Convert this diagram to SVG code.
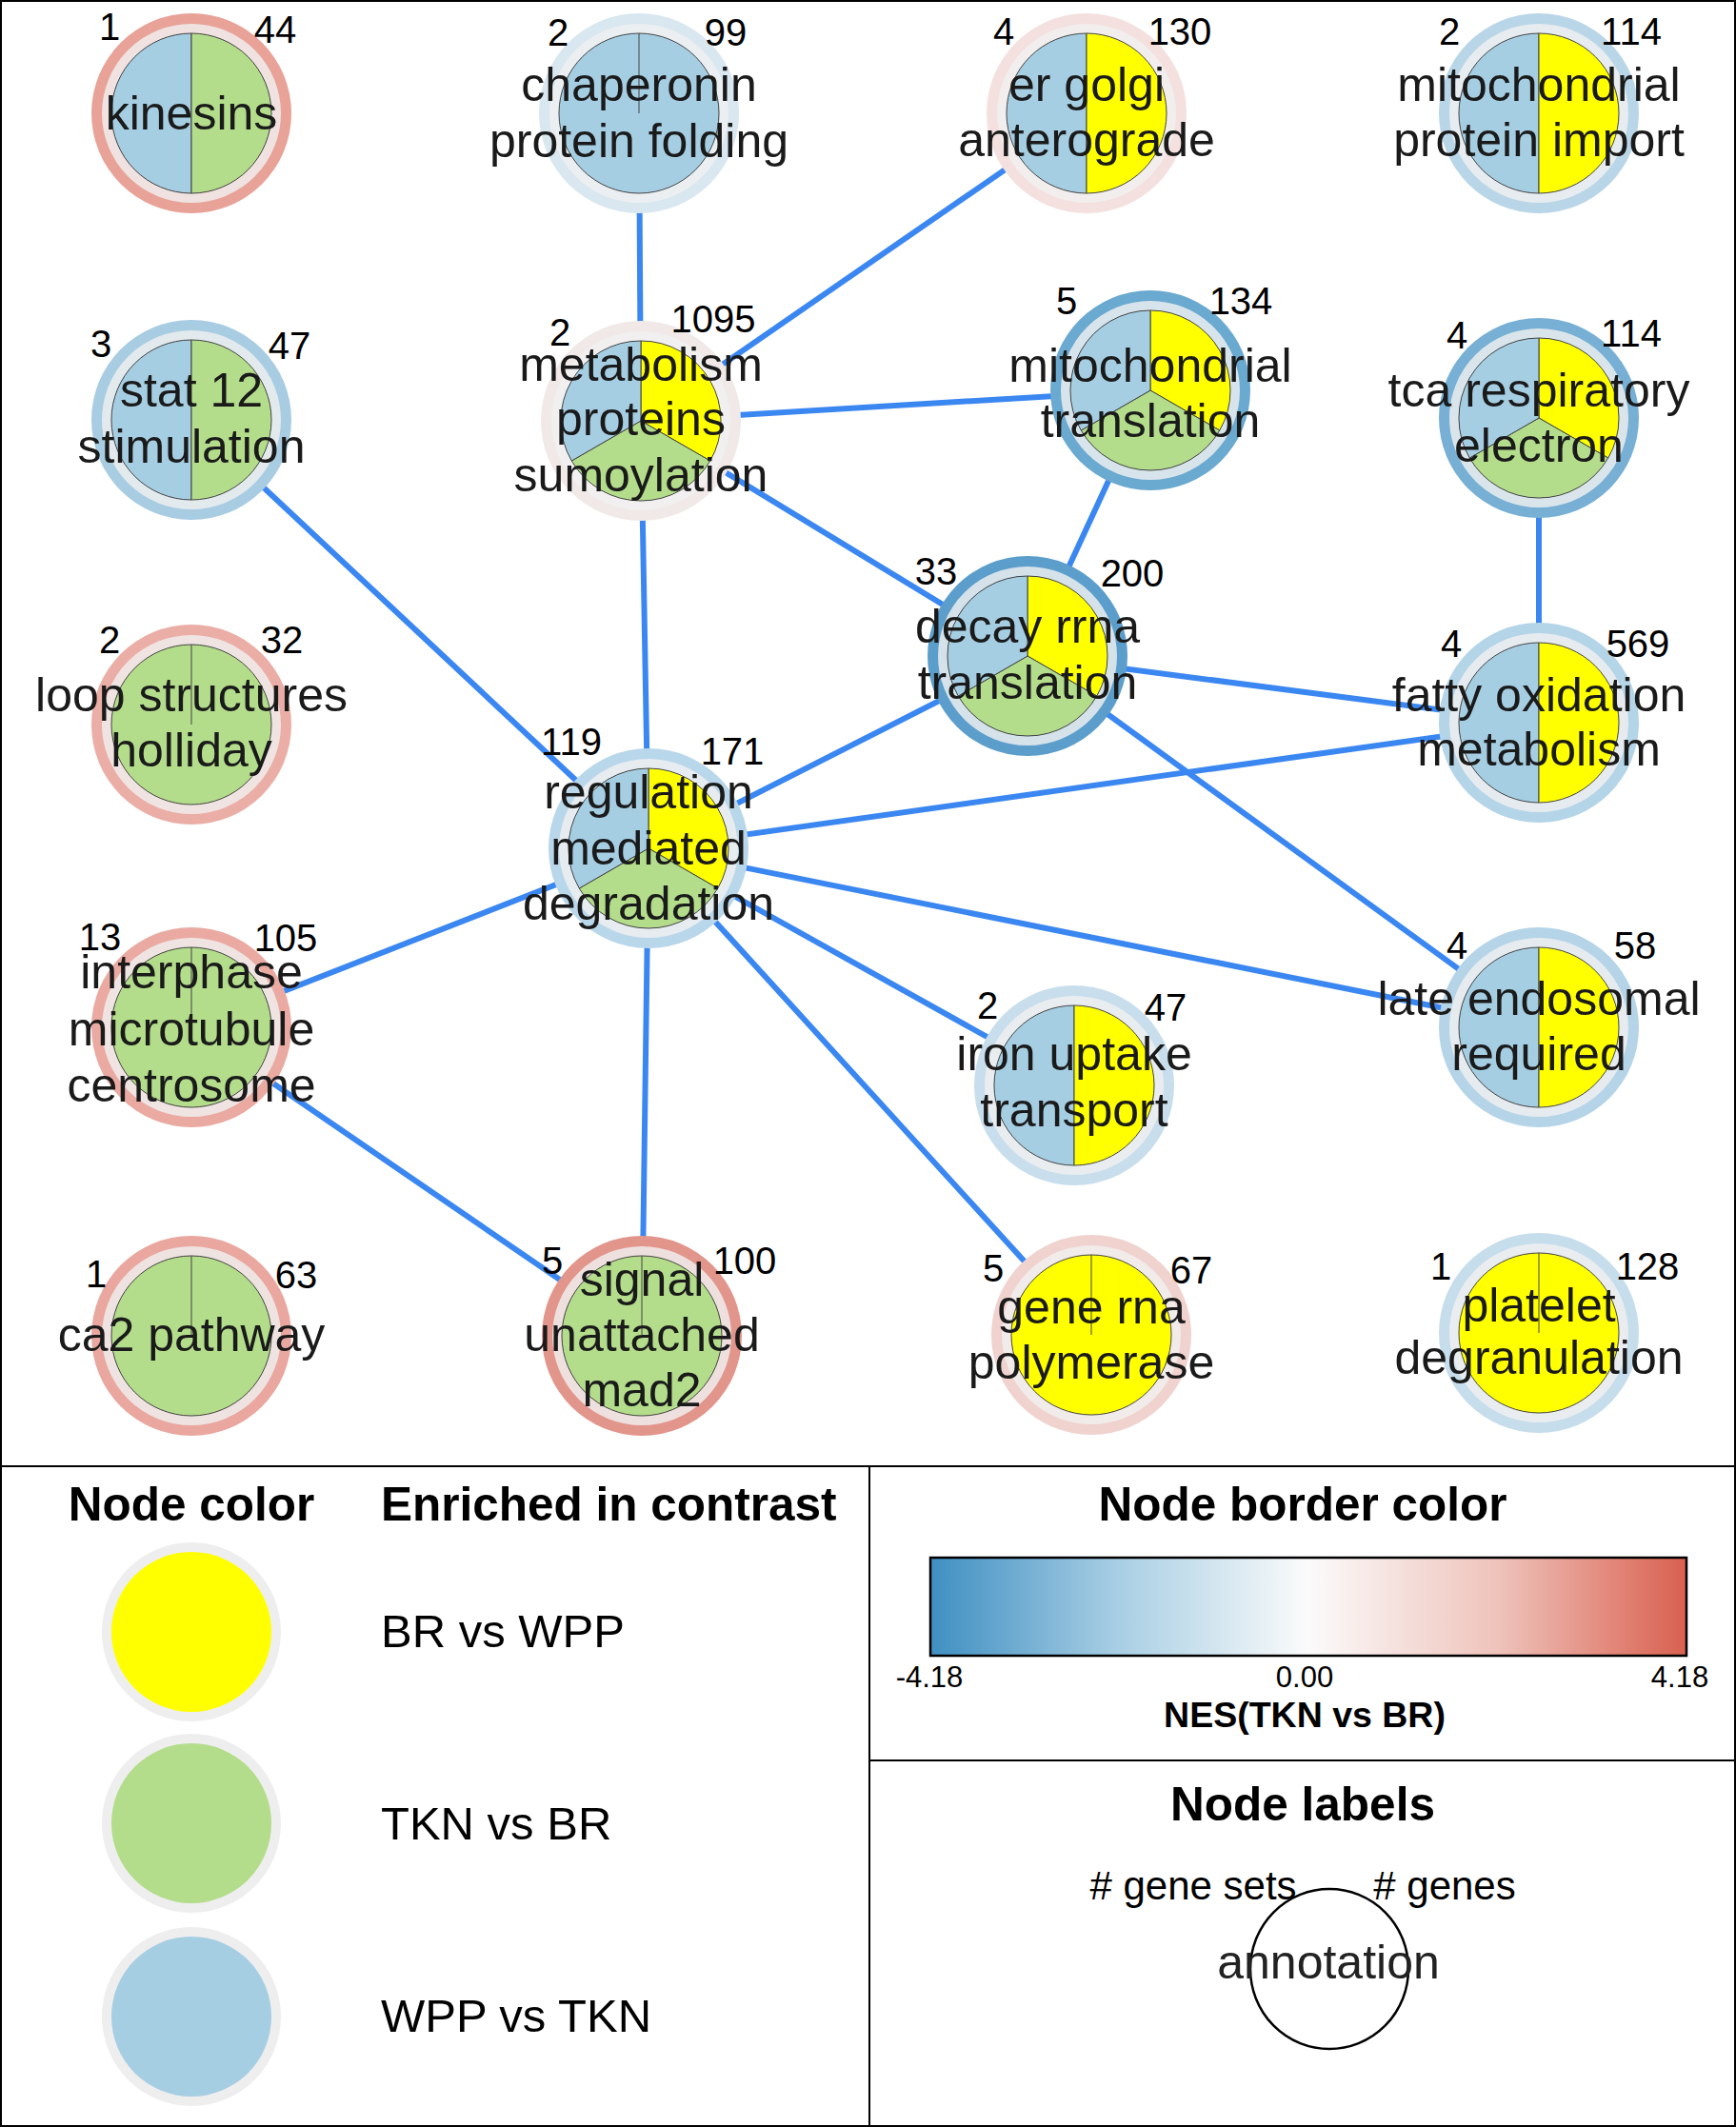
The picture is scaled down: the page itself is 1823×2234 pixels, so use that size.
<svg xmlns="http://www.w3.org/2000/svg" width="1823" height="2234" viewBox="0 0 1823 2234">
<style>
.edge{stroke:#3b87f2;stroke-width:6;fill:none;stroke-linecap:butt}
.halo{fill:none;stroke:#f0f0f0;stroke-opacity:0.82;stroke-width:10}
.pie{stroke:#444;stroke-width:1}
.y{fill:#ffff00}.g{fill:#b3dd8b}.b{fill:#a6cee3}
.lbl{font-family:"Liberation Sans",Arial,sans-serif;font-size:50px;fill:#1a1a1a;text-anchor:middle}
.num{font-family:"Liberation Sans",Arial,sans-serif;font-size:40px;fill:#000;text-anchor:middle}
.h{font-family:"Liberation Sans",Arial,sans-serif;font-weight:bold;font-size:49.5px;fill:#000}
.leg{font-family:"Liberation Sans",Arial,sans-serif;font-size:49px;fill:#000}
.frame{fill:none;stroke:#000;stroke-width:2}
</style>
<defs>
<linearGradient id="nes" x1="0" y1="0" x2="1" y2="0">
<stop offset="0" stop-color="#3f8fc2"/>
<stop offset="0.25" stop-color="#a9cfe4"/>
<stop offset="0.5" stop-color="#fbfbfb"/>
<stop offset="0.75" stop-color="#efc3bb"/>
<stop offset="1" stop-color="#d9604f"/>
</linearGradient>
</defs>
<rect x="0" y="0" width="1823" height="2234" fill="#fff"/>
<g id="connectors">
<line class="edge" x1="671" y1="119" x2="673" y2="442"/>
<line class="edge" x1="1141" y1="119" x2="673" y2="442"/>
<line class="edge" x1="673" y1="442" x2="1208" y2="410"/>
<line class="edge" x1="673" y1="442" x2="1079" y2="689"/>
<line class="edge" x1="673" y1="442" x2="681" y2="891"/>
<line class="edge" x1="201" y1="441" x2="681" y2="891"/>
<line class="edge" x1="1208" y1="410" x2="1079" y2="689"/>
<line class="edge" x1="1616" y1="439" x2="1616" y2="759"/>
<line class="edge" x1="1079" y1="689" x2="1616" y2="759"/>
<line class="edge" x1="1079" y1="689" x2="681" y2="891"/>
<line class="edge" x1="1079" y1="689" x2="1616" y2="1079"/>
<line class="edge" x1="681" y1="891" x2="1616" y2="759"/>
<line class="edge" x1="681" y1="891" x2="1616" y2="1079"/>
<line class="edge" x1="681" y1="891" x2="1128" y2="1140"/>
<line class="edge" x1="681" y1="891" x2="1146" y2="1402"/>
<line class="edge" x1="681" y1="891" x2="674" y2="1403"/>
<line class="edge" x1="681" y1="891" x2="201" y2="1079"/>
<line class="edge" x1="201" y1="1079" x2="674" y2="1403"/>
</g>

<g id="node-kinesins">
<circle cx="201" cy="119" r="105" fill="#e8a298"/><circle class="halo" cx="201" cy="119" r="89"/>
<path class="pie b" d="M201,35 A84,84 0 0,0 201,203 Z"/><path class="pie g" d="M201,35 A84,84 0 0,1 201,203 Z"/>
<text class="num" x="115" y="42">1</text><text class="num" x="289" y="45">44</text>
<text class="lbl" x="201" y="136">kinesins</text>
</g>

<g id="node-chaperonin">
<circle cx="671" cy="119" r="105" fill="#d8e7f0"/><circle class="halo" cx="671" cy="119" r="89"/>
<circle class="pie b" cx="671" cy="119" r="84"/><line class="pie" x1="671" y1="35" x2="671" y2="119"/>
<text class="num" x="586" y="48">2</text><text class="num" x="762" y="48">99</text>
<text class="lbl" x="671" y="106">chaperonin</text><text class="lbl" x="671" y="165">protein folding</text>
</g>

<g id="node-er-golgi">
<circle cx="1141" cy="119" r="105" fill="#f3e0df"/><circle class="halo" cx="1141" cy="119" r="89"/>
<path class="pie b" d="M1141,35 A84,84 0 0,0 1141,203 Z"/><path class="pie y" d="M1141,35 A84,84 0 0,1 1141,203 Z"/>
<text class="num" x="1054" y="47">4</text><text class="num" x="1239" y="47">130</text>
<text class="lbl" x="1141" y="106">er golgi</text><text class="lbl" x="1141" y="164">anterograde</text>
</g>

<g id="node-mito-import">
<circle cx="1616" cy="119" r="105" fill="#b9d6e8"/><circle class="halo" cx="1616" cy="119" r="89"/>
<path class="pie b" d="M1616,35 A84,84 0 0,0 1616,203 Z"/><path class="pie y" d="M1616,35 A84,84 0 0,1 1616,203 Z"/>
<text class="num" x="1522" y="47">2</text><text class="num" x="1713" y="47">114</text>
<text class="lbl" x="1616" y="106">mitochondrial</text><text class="lbl" x="1616" y="164">protein import</text>
</g>

<g id="node-stat12">
<circle cx="201" cy="441" r="105" fill="#a8cce2"/><circle class="halo" cx="201" cy="441" r="89"/>
<path class="pie b" d="M201,357 A84,84 0 0,0 201,525 Z"/><path class="pie g" d="M201,357 A84,84 0 0,1 201,525 Z"/>
<text class="num" x="106" y="375">3</text><text class="num" x="304" y="377">47</text>
<text class="lbl" x="201" y="427">stat 12</text><text class="lbl" x="201" y="486">stimulation</text>
</g>

<g id="node-metabolism">
<circle cx="673" cy="442" r="105" fill="#f1e9e8"/><circle class="halo" cx="673" cy="442" r="89"/>
<path class="pie y" d="M673,442 L673,358 A84,84 0 0,1 745.75,484 Z"/>
<path class="pie g" d="M673,442 L745.75,484 A84,84 0 0,1 600.25,484 Z"/>
<path class="pie b" d="M673,442 L600.25,484 A84,84 0 0,1 673,358 Z"/>
<text class="num" x="588" y="363">2</text><text class="num" x="749" y="349">1095</text>
<text class="lbl" x="673" y="400">metabolism</text><text class="lbl" x="673" y="457">proteins</text><text class="lbl" x="673" y="516">sumoylation</text>
</g>

<g id="node-mito-translation">
<circle cx="1208" cy="410" r="105" fill="#6aa9d0"/><circle class="halo" cx="1208" cy="410" r="89"/>
<path class="pie y" d="M1208,410 L1208,326 A84,84 0 0,1 1280.75,452 Z"/>
<path class="pie g" d="M1208,410 L1280.75,452 A84,84 0 0,1 1135.25,452 Z"/>
<path class="pie b" d="M1208,410 L1135.25,452 A84,84 0 0,1 1208,326 Z"/>
<text class="num" x="1120" y="330">5</text><text class="num" x="1303" y="330">134</text>
<text class="lbl" x="1208" y="401">mitochondrial</text><text class="lbl" x="1208" y="459">translation</text>
</g>

<g id="node-tca">
<circle cx="1616" cy="439" r="105" fill="#77b0d4"/><circle class="halo" cx="1616" cy="439" r="89"/>
<path class="pie y" d="M1616,439 L1616,355 A84,84 0 0,1 1688.75,481 Z"/>
<path class="pie g" d="M1616,439 L1688.75,481 A84,84 0 0,1 1543.25,481 Z"/>
<path class="pie b" d="M1616,439 L1543.25,481 A84,84 0 0,1 1616,355 Z"/>
<text class="num" x="1530" y="366">4</text><text class="num" x="1713" y="364">114</text>
<text class="lbl" x="1616" y="427">tca respiratory</text><text class="lbl" x="1616" y="485">electron</text>
</g>

<g id="node-decay">
<circle cx="1079" cy="689" r="105" fill="#5c9ecb"/><circle class="halo" cx="1079" cy="689" r="89"/>
<path class="pie y" d="M1079,689 L1079,605 A84,84 0 0,1 1151.75,731 Z"/>
<path class="pie g" d="M1079,689 L1151.75,731 A84,84 0 0,1 1006.25,731 Z"/>
<path class="pie b" d="M1079,689 L1006.25,731 A84,84 0 0,1 1079,605 Z"/>
<text class="num" x="983" y="614">33</text><text class="num" x="1189" y="616">200</text>
<text class="lbl" x="1079" y="675">decay rrna</text><text class="lbl" x="1079" y="734">translation</text>
</g>

<g id="node-loop">
<circle cx="201" cy="761" r="105" fill="#ebaea6"/><circle class="halo" cx="201" cy="761" r="89"/>
<circle class="pie g" cx="201" cy="761" r="84"/><line class="pie" x1="201" y1="677" x2="201" y2="761"/>
<text class="num" x="115" y="686">2</text><text class="num" x="296" y="686">32</text>
<text class="lbl" x="201" y="747">loop structures</text><text class="lbl" x="201" y="805">holliday</text>
</g>

<g id="node-fatty">
<circle cx="1616" cy="759" r="105" fill="#b4d4e8"/><circle class="halo" cx="1616" cy="759" r="89"/>
<path class="pie b" d="M1616,675 A84,84 0 0,0 1616,843 Z"/><path class="pie y" d="M1616,675 A84,84 0 0,1 1616,843 Z"/>
<text class="num" x="1524" y="690">4</text><text class="num" x="1720" y="690">569</text>
<text class="lbl" x="1616" y="747">fatty oxidation</text><text class="lbl" x="1616" y="804">metabolism</text>
</g>

<g id="node-regulation">
<circle cx="681" cy="891" r="105" fill="#b9d7ea"/><circle class="halo" cx="681" cy="891" r="89"/>
<path class="pie y" d="M681,891 L681,807 A84,84 0 0,1 753.75,933 Z"/>
<path class="pie g" d="M681,891 L753.75,933 A84,84 0 0,1 608.25,933 Z"/>
<path class="pie b" d="M681,891 L608.25,933 A84,84 0 0,1 681,807 Z"/>
<text class="num" x="600" y="793">119</text><text class="num" x="769" y="803">171</text>
<text class="lbl" x="681" y="849">regulation</text><text class="lbl" x="681" y="908">mediated</text><text class="lbl" x="681" y="966">degradation</text>
</g>

<g id="node-interphase">
<circle cx="201" cy="1079" r="105" fill="#eaaaa2"/><circle class="halo" cx="201" cy="1079" r="89"/>
<circle class="pie g" cx="201" cy="1079" r="84"/><line class="pie" x1="201" y1="995" x2="201" y2="1079"/>
<text class="num" x="105" y="998">13</text><text class="num" x="300" y="999">105</text>
<text class="lbl" x="201" y="1038">interphase</text><text class="lbl" x="201" y="1098">microtubule</text><text class="lbl" x="201" y="1157">centrosome</text>
</g>

<g id="node-iron">
<circle cx="1128" cy="1140" r="105" fill="#c8deec"/><circle class="halo" cx="1128" cy="1140" r="89"/>
<path class="pie b" d="M1128,1056 A84,84 0 0,0 1128,1224 Z"/><path class="pie y" d="M1128,1056 A84,84 0 0,1 1128,1224 Z"/>
<text class="num" x="1037" y="1070">2</text><text class="num" x="1224" y="1072">47</text>
<text class="lbl" x="1128" y="1124">iron uptake</text><text class="lbl" x="1128" y="1183">transport</text>
</g>

<g id="node-late-endosomal">
<circle cx="1616" cy="1079" r="105" fill="#b5d4e8"/><circle class="halo" cx="1616" cy="1079" r="89"/>
<path class="pie b" d="M1616,995 A84,84 0 0,0 1616,1163 Z"/><path class="pie y" d="M1616,995 A84,84 0 0,1 1616,1163 Z"/>
<text class="num" x="1530" y="1007">4</text><text class="num" x="1717" y="1007">58</text>
<text class="lbl" x="1616" y="1066">late endosomal</text><text class="lbl" x="1616" y="1124">required</text>
</g>

<g id="node-ca2">
<circle cx="201" cy="1403" r="105" fill="#e9a79f"/><circle class="halo" cx="201" cy="1403" r="89"/>
<circle class="pie g" cx="201" cy="1403" r="84"/><line class="pie" x1="201" y1="1319" x2="201" y2="1403"/>
<text class="num" x="101" y="1352">1</text><text class="num" x="311" y="1353">63</text>
<text class="lbl" x="201" y="1419">ca2 pathway</text>
</g>

<g id="node-signal">
<circle cx="674" cy="1403" r="105" fill="#e2958b"/><circle class="halo" cx="674" cy="1403" r="89"/>
<circle class="pie g" cx="674" cy="1403" r="84"/><line class="pie" x1="674" y1="1319" x2="674" y2="1403"/>
<text class="num" x="580" y="1338">5</text><text class="num" x="782" y="1338">100</text>
<text class="lbl" x="674" y="1361">signal</text><text class="lbl" x="674" y="1419">unattached</text><text class="lbl" x="674" y="1477">mad2</text>
</g>

<g id="node-gene-rna">
<circle cx="1146" cy="1402" r="105" fill="#f0d2ce"/><circle class="halo" cx="1146" cy="1402" r="89"/>
<circle class="pie y" cx="1146" cy="1402" r="84"/><line class="pie" x1="1146" y1="1318" x2="1146" y2="1402"/>
<text class="num" x="1043" y="1346">5</text><text class="num" x="1251" y="1348">67</text>
<text class="lbl" x="1146" y="1390">gene rna</text><text class="lbl" x="1146" y="1448">polymerase</text>
</g>

<g id="node-platelet">
<circle cx="1616" cy="1400" r="105" fill="#c6ddec"/><circle class="halo" cx="1616" cy="1400" r="89"/>
<circle class="pie y" cx="1616" cy="1400" r="84"/><line class="pie" x1="1616" y1="1316" x2="1616" y2="1400"/>
<text class="num" x="1513" y="1344">1</text><text class="num" x="1730" y="1344">128</text>
<text class="lbl" x="1616" y="1388">platelet</text><text class="lbl" x="1616" y="1443">degranulation</text>
</g>

<g id="frames">
<rect class="frame" x="1" y="1" width="1821" height="2232"/>
<line class="frame" x1="0" y1="1540" x2="1823" y2="1540"/>
<line class="frame" x1="913" y1="1540" x2="913" y2="2234"/>
<line class="frame" x1="913" y1="1849" x2="1823" y2="1849"/>
</g>

<g id="legend-node-color">
<text class="h" x="201" y="1597" text-anchor="middle">Node color</text>
<text class="h" x="400" y="1597">Enriched in contrast</text>
<circle cx="201" cy="1714" r="94" fill="#eeeeee"/><circle cx="201" cy="1714" r="84" fill="#ffff00"/>
<circle cx="201" cy="1915" r="94" fill="#eeeeee"/><circle cx="201" cy="1915" r="84" fill="#b3dd8b"/>
<circle cx="201" cy="2118" r="94" fill="#eeeeee"/><circle cx="201" cy="2118" r="84" fill="#a6cee3"/>
<text class="leg" x="400" y="1730">BR vs WPP</text>
<text class="leg" x="400" y="1932">TKN vs BR</text>
<text class="leg" x="400" y="2134">WPP vs TKN</text>
</g>

<g id="legend-border-color">
<text class="h" x="1368" y="1597" text-anchor="middle">Node border color</text>
<rect x="977" y="1636" width="794" height="103" fill="url(#nes)" stroke="#000" stroke-width="2.5"/>
<text class="num" x="976" y="1772" style="font-size:31px">-4.18</text>
<text class="num" x="1370" y="1772" style="font-size:31px">0.00</text>
<text class="num" x="1764" y="1772" style="font-size:31px">4.18</text>
<text class="h" x="1370" y="1814" text-anchor="middle" style="font-size:37.5px">NES(TKN vs BR)</text>
</g>

<g id="legend-node-labels">
<text class="h" x="1368" y="1912" text-anchor="middle">Node labels</text>
<text class="num" x="1253" y="1995" style="font-size:42px"># gene sets</text>
<text class="num" x="1517" y="1995" style="font-size:42px"># genes</text>
<ellipse cx="1396" cy="2068" rx="83" ry="84" fill="none" stroke="#000" stroke-width="2.5"/>
<text class="lbl" x="1395" y="2078" style="fill:#222">annotation</text>
</g>
</svg>
